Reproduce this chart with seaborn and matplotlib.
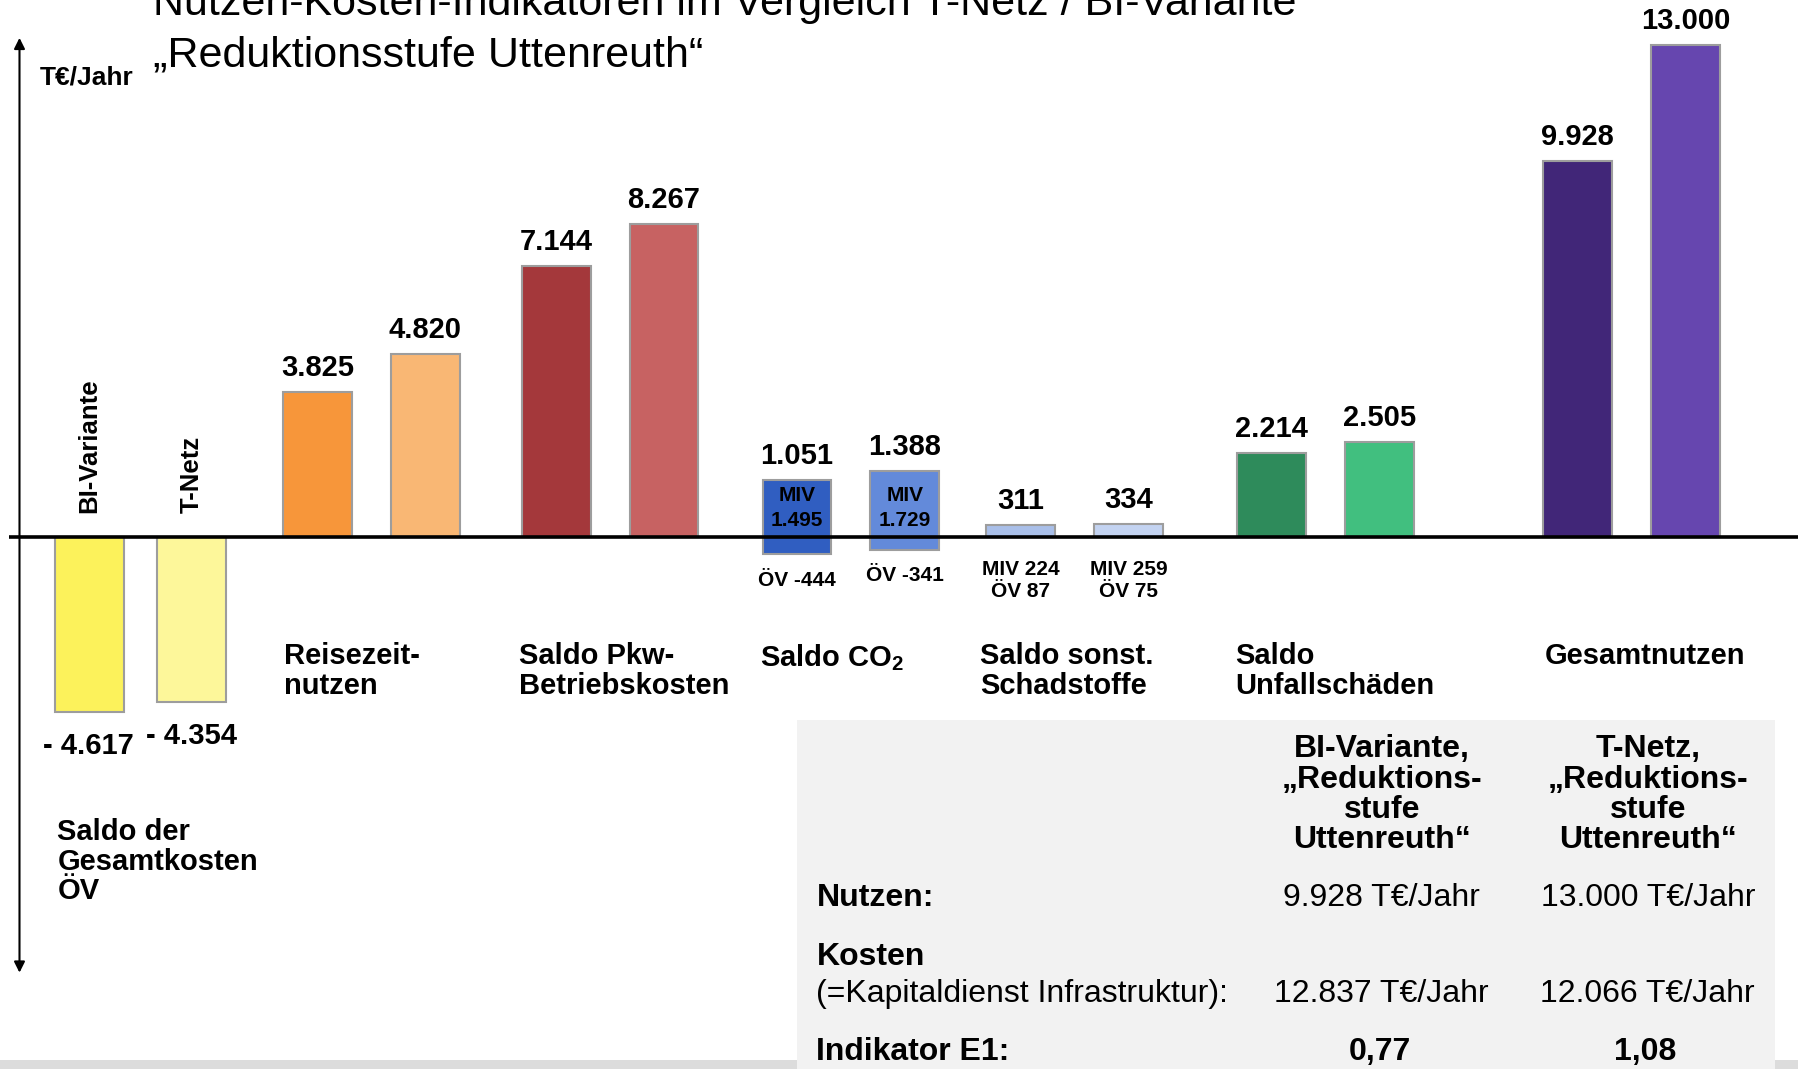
import matplotlib
matplotlib.use("Agg")
import matplotlib.pyplot as plt
from matplotlib.patches import Rectangle
from matplotlib.transforms import Affine2D
import seaborn as sns
import pandas as pd

# ---------------- data ----------------
groups = ["Saldo der\nGesamtkosten\nÖV", "Reisezeit-\nnutzen", "Saldo Pkw-\nBetriebskosten",
          "Saldo $\\mathbf{CO_2}$", "Saldo sonst.\nSchadstoffe", "Saldo\nUnfallschäden",
          "Gesamtnutzen"]
variants = ["BI-Variante", "T-Netz"]
bi_values = [-4617, 3825, 7144, 1051, 311, 2214, 9928]
tnetz_values = [-4354, 4820, 8267, 1388, 334, 2505, 13000]
co2_miv = [1495, 1729]
co2_oev = [-444, -341]
sonst_miv = [224, 259]
sonst_oev = [87, 75]
bi_colors = ["#FCF25B", "#F7963A", "#A4383B", "#305EC1", "#A9BFE9", "#2E8B5B", "#412678"]
tnetz_colors = ["#FDF79A", "#F9B774", "#C76262", "#638ADA", "#C3D3F1", "#41BF7F", "#6646AF"]

table_header = ["BI-Variante,\n„Reduktions-\nstufe\nUttenreuth“",
                "T-Netz,\n„Reduktions-\nstufe\nUttenreuth“"]
nutzen = [9928, 13000]
kosten = [12837, 12066]
indikator = ["0,77", "1,08"]

title_lines = ["Nutzen-Kosten-Indikatoren im Vergleich T-Netz / BI-Variante",
               "„Reduktionsstufe Uttenreuth“"]
unit = "T€/Jahr"

# ---------------- layout ----------------
W, H = 1568, 932            # layout grid
ZERO_Y = 468                # grid row of the zero line
SCALE = 0.033               # grid units per T€
bar_x = [78, 167, 277, 371, 485, 579, 695, 789, 890, 984, 1109, 1203, 1376, 1470]
BAR_W = 60
group_label_pos = [(50, 713), (248, 560), (453, 560), (663, 560), (855, 560), (1077, 560), (1347, 560)]
CO2 = 3

sns.set_theme(style="white")
plt.rcParams["font.family"] = ["Liberation Sans", "DejaVu Sans"]
plt.rcParams["text.color"] = "black"
plt.rcParams["mathtext.fontset"] = "custom"
plt.rcParams["mathtext.rm"] = "Liberation Sans"
plt.rcParams["mathtext.bf"] = "Liberation Sans:bold"

fig = plt.figure(figsize=(17.98, 10.69), dpi=100)
fig.patch.set_facecolor("white")
ax = fig.add_axes([0, 0, 1, 1])
ax.set_facecolor("none")
grid = Affine2D().scale(1 / W, -1 / H).translate(0, 1) + fig.transFigure


def de(v):
    s = f"{abs(v):,}".replace(",", ".")
    return "- " + s if v < 0 else s


# bars: one row per bar; CO2 bars show the MIV part above zero
names, xs, heights, colors = [], [], [], []
for i in range(len(groups)):
    for j, (vals, cols) in enumerate([(bi_values, bi_colors), (tnetz_values, tnetz_colors)]):
        names.append(f"{variants[j]} {i}")
        xs.append(bar_x[2 * i + j])
        heights.append(co2_miv[j] if i == CO2 else vals[i])
        colors.append(cols[i])
bars = pd.DataFrame({"bar": names, "x": xs, "value": heights})

edge = dict(edgecolor="#9d9d9d", linewidth=1.5)
native = min(b - a for a, b in zip(bar_x[:-1], bar_x[1:]))
sns.barplot(data=bars, x="x", y="value", hue="bar", hue_order=names,
            palette=dict(zip(names, colors)), native_scale=True, dodge=False,
            errorbar=None, saturation=1, legend=False, width=BAR_W / native,
            ax=ax, zorder=2, **edge)

# CO2: OEV part below zero
oev = pd.DataFrame({"bar": names[2 * CO2:2 * CO2 + 2], "x": bar_x[2 * CO2:2 * CO2 + 2],
                    "value": co2_oev})
sns.barplot(data=oev, x="x", y="value", hue="bar", hue_order=list(oev["bar"]),
            palette=dict(zip(oev["bar"], colors[2 * CO2:2 * CO2 + 2])), native_scale=True,
            dodge=False, errorbar=None, saturation=1, legend=False,
            width=BAR_W / (oev["x"].iloc[1] - oev["x"].iloc[0]), ax=ax, zorder=2, **edge)

ax.set_xlim(0, W)
ax.set_ylim(-(H - ZERO_Y) / SCALE, ZERO_Y / SCALE)
ax.axis("off")

# zero line
ax.plot([8, W], [0, 0], color="black", lw=2.6, zorder=5, solid_capstyle="butt")

# value labels
for i in range(len(groups)):
    for j, vals in enumerate([bi_values, tnetz_values]):
        x = bar_x[2 * i + j]
        v = vals[i]
        top = co2_miv[j] if i == CO2 else v
        if v < 0:
            ax.annotate(de(v), (x, v), xytext=(-1 if j == 0 else 0, -15),
                        textcoords="offset points", ha="center", va="top",
                        fontsize=21, fontweight="bold")
        else:
            ax.annotate(de(v), (x, top), xytext=(0, 11.5), textcoords="offset points",
                        ha="center", va="baseline", fontsize=21, fontweight="bold")

# detail labels for CO2 and other pollutants
for j in range(2):
    x = bar_x[2 * CO2 + j]
    ax.text(x, 443, f"MIV\n{de(co2_miv[j])}", transform=grid, ha="center", va="center",
            fontsize=15, fontweight="bold", linespacing=1.35, zorder=6)
    ax.text(x, 506 - 4 * j, f"ÖV {co2_oev[j]}", transform=grid, ha="center", va="center",
            fontsize=15, fontweight="bold")
    xs_ = bar_x[2 * (CO2 + 1) + j]
    ax.text(xs_, 506, f"MIV {sonst_miv[j]}\nÖV {sonst_oev[j]}", transform=grid, ha="center",
            va="center", fontsize=15, fontweight="bold", linespacing=1.25)

# rotated variant names
for j in range(2):
    ax.text(bar_x[j], 447, variants[j], transform=grid, rotation=90, ha="center",
            va="bottom", fontsize=18.5, fontweight="bold")

# group labels
for g, (gx, gy) in zip(groups, group_label_pos):
    ax.text(gx, gy, g, transform=grid, ha="left", va="top", fontsize=21,
            fontweight="bold", linespacing=1.08)

# title and unit
ax.text(133, 13, title_lines[0], transform=grid, ha="left", va="baseline", fontsize=31)
ax.text(133, 58, title_lines[1], transform=grid, ha="left", va="baseline", fontsize=31)
ax.text(35, 74, unit, transform=grid, ha="left", va="baseline", fontsize=19, fontweight="bold")

# axis arrow
ax.annotate("", xy=(17, 33), xytext=(17, 848), xycoords=grid, textcoords=grid,
            arrowprops=dict(arrowstyle="<|-|>", color="black", lw=1.5, mutation_scale=16,
                            shrinkA=0, shrinkB=0))

# bottom strip and table panel
ax.add_patch(Rectangle((0, 924), W, 8, transform=grid, facecolor="#dcdcdc",
                       edgecolor="none", zorder=0, clip_on=False))
ax.add_patch(Rectangle((695, 628), 853, 304, transform=grid, facecolor="#f2f2f2",
                       edgecolor="none", zorder=1, clip_on=False))

col_x = [1205, 1437]
for j in range(2):
    ax.text(col_x[j], 640, table_header[j], transform=grid, ha="center", va="top",
            fontsize=23, fontweight="bold", linespacing=1.02, zorder=6)
    ax.text(col_x[j], 790, f"{de(nutzen[j])} {unit}", transform=grid, ha="center",
            va="baseline", fontsize=23, zorder=6)
    ax.text(col_x[j], 874, f"{de(kosten[j])} {unit}", transform=grid, ha="center",
            va="baseline", fontsize=23, zorder=6)
    ax.text(col_x[j] - 2, 924, indikator[j], transform=grid, ha="center", va="baseline",
            fontsize=23, fontweight="bold", zorder=6)
ax.text(712, 790, "Nutzen:", transform=grid, ha="left", va="baseline", fontsize=23,
        fontweight="bold", zorder=6)
ax.text(712, 841, "Kosten", transform=grid, ha="left", va="baseline", fontsize=23,
        fontweight="bold", zorder=6)
ax.text(712, 874, "(=Kapitaldienst Infrastruktur):", transform=grid, ha="left",
        va="baseline", fontsize=23, zorder=6)
ax.text(712, 924, "Indikator E1:", transform=grid, ha="left", va="baseline", fontsize=23,
        fontweight="bold", zorder=6)

fig.savefig("out.png", dpi=100)
